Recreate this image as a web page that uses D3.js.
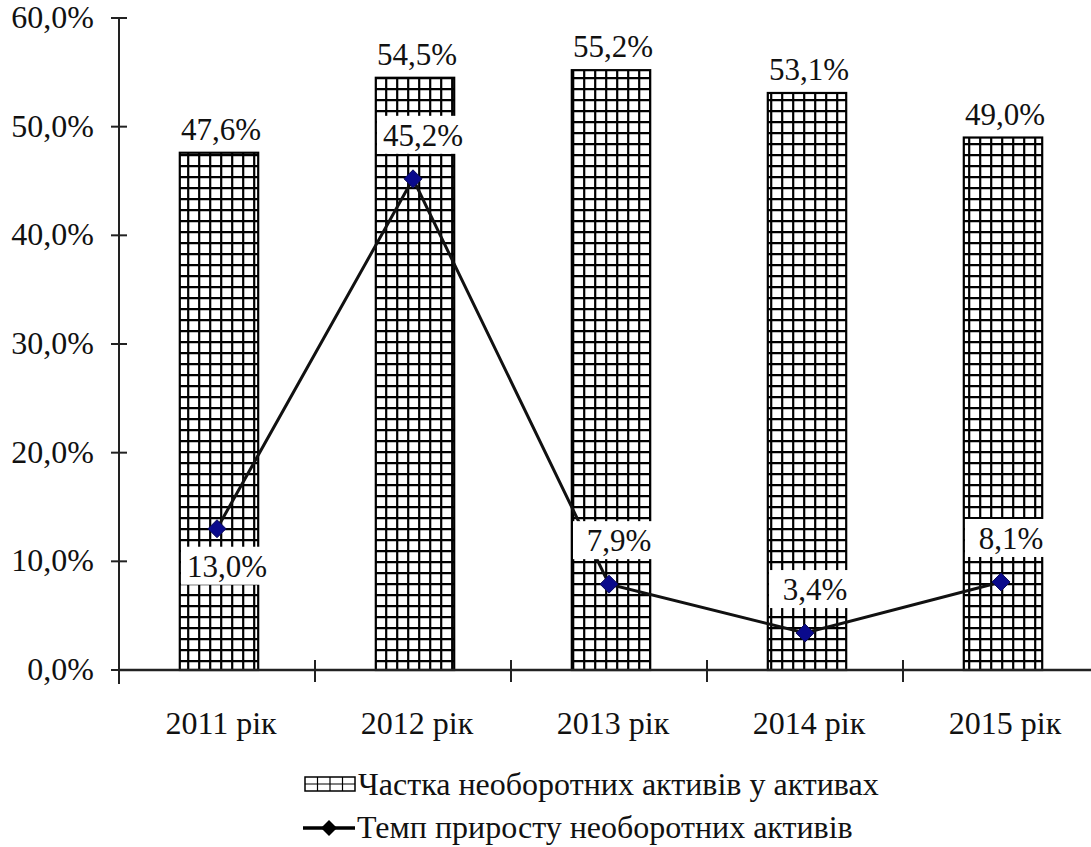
<!DOCTYPE html>
<html>
<head>
<meta charset="utf-8">
<script src="https://cdn.jsdelivr.net/npm/d3@7"></script>
<style>
  body { margin: 0; background: #fff; }
</style>
</head>
<body>
<div id="chart"></div>
<script>
const WIDTH = 1091;
const HEIGHT = 847;
const FONT = "Liberation Serif";

// дані
const years = ["2011 рік", "2012 рік", "2013 рік", "2014 рік", "2015 рік"];
const shareValues = [47.6, 54.5, 55.2, 53.1, 49.0];   // частка необоротних активів
const growthValues = [13.0, 45.2, 7.9, 3.4, 8.1];     // темп приросту
const growthLabelSide = ["below", "above", "above", "above", "above"];
const yTicks = [0, 10, 20, 30, 40, 50, 60];
const legendLabels = ["Частка необоротних активів у активах", "Темп приросту необоротних активів"];

const MARGIN = { top: 18, left: 119, bottom: 177 };

const fmt = v => d3.format(".1f")(v).replace(".", ",") + "%";

const svg = d3.select("#chart").append("svg")
  .attr("width", WIDTH)
  .attr("height", HEIGHT);

// візерунок сітки для стовпців
const defs = svg.append("defs");
const pat = defs.append("pattern")
  .attr("id", "grid")
  .attr("patternUnits", "userSpaceOnUse")
  .attr("width", 11)
  .attr("height", 11);
pat.append("rect").attr("width", 11).attr("height", 11).attr("fill", "#fff");
pat.append("path")
  .attr("d", "M0,1.2H11M1.2,0V11")
  .attr("stroke", "#000")
  .attr("stroke-width", 2.2);

const x = d3.scaleBand()
  .domain(years)
  .range([MARGIN.left, MARGIN.left + 196 * years.length]);

const y = d3.scaleLinear()
  .domain([0, 60])
  .range([HEIGHT - MARGIN.bottom, MARGIN.top]);

const barW = x.bandwidth() * 0.4;

// стовпці
svg.selectAll("rect.bar")
  .data(shareValues)
  .join("rect")
  .attr("class", "bar")
  .attr("x", (d, i) => x(years[i]) + x.bandwidth() / 2 - barW / 2 + 2)
  .attr("y", d => y(d))
  .attr("width", barW)
  .attr("height", d => y(0) - y(d))
  .attr("fill", "url(#grid)")
  .attr("stroke", "#000")
  .attr("stroke-width", 2.2);

// підписи стовпців
svg.selectAll("text.barlab")
  .data(shareValues)
  .join("text")
  .attr("class", "barlab")
  .attr("x", (d, i) => x(years[i]) + x.bandwidth() / 2 + 4)
  .attr("y", d => y(d) - 13)
  .attr("text-anchor", "middle")
  .attr("font-family", FONT)
  .attr("font-size", 31)
  .attr("fill", "#111")
  .text(d => fmt(d));

// вісь Y
svg.append("line")
  .attr("x1", MARGIN.left).attr("x2", MARGIN.left)
  .attr("y1", y(60)).attr("y2", y(0) + 14)
  .attr("stroke", "#222").attr("stroke-width", 2);

svg.selectAll("line.ytick")
  .data(yTicks)
  .join("line")
  .attr("class", "ytick")
  .attr("x1", MARGIN.left - 8).attr("x2", MARGIN.left + 8)
  .attr("y1", d => y(d)).attr("y2", d => y(d))
  .attr("stroke", "#222").attr("stroke-width", 2);

svg.selectAll("text.ylab")
  .data(yTicks)
  .join("text")
  .attr("class", "ylab")
  .attr("x", MARGIN.left - 25)
  .attr("y", d => y(d) + 10)
  .attr("text-anchor", "end")
  .attr("font-family", FONT)
  .attr("font-size", 32)
  .attr("fill", "#111")
  .text(d => fmt(d));

// вісь X
svg.append("line")
  .attr("x1", MARGIN.left).attr("x2", WIDTH)
  .attr("y1", y(0)).attr("y2", y(0))
  .attr("stroke", "#222").attr("stroke-width", 2.5);

svg.selectAll("line.xtick")
  .data(years.slice(1))
  .join("line")
  .attr("class", "xtick")
  .attr("x1", d => x(d)).attr("x2", d => x(d))
  .attr("y1", y(0) - 10).attr("y2", y(0) + 12)
  .attr("stroke", "#222").attr("stroke-width", 2);

svg.selectAll("text.xlab")
  .data(years)
  .join("text")
  .attr("class", "xlab")
  .attr("x", d => x(d) + x.bandwidth() / 2 + 4)
  .attr("y", y(0) + 64)
  .attr("text-anchor", "middle")
  .attr("font-family", FONT)
  .attr("font-size", 32)
  .attr("fill", "#111")
  .text(d => d);

// лінія темпу приросту
const cx = i => x(years[i]) + x.bandwidth() / 2;
const line = d3.line()
  .x((d, i) => cx(i))
  .y(d => y(d));

svg.append("path")
  .datum(growthValues)
  .attr("d", line)
  .attr("fill", "none")
  .attr("stroke", "#111")
  .attr("stroke-width", 3);

const diamondPath = "M0,-9L9,0L0,9L-9,0Z";
svg.selectAll("path.pt")
  .data(growthValues)
  .join("path")
  .attr("class", "pt")
  .attr("transform", (d, i) => `translate(${cx(i)},${y(d)})`)
  .attr("d", diamondPath)
  .attr("fill", "#0a0a8c")
  .attr("stroke", "#0a0a5a")
  .attr("stroke-width", 1);

// підписи лінії з білим фоном
const glab = svg.selectAll("g.glab")
  .data(growthValues)
  .join("g")
  .attr("class", "glab")
  .attr("transform", (d, i) => {
    const dy = growthLabelSide[i] === "below" ? 37 : -44;
    return `translate(${cx(i) + 10},${y(d) + dy})`;
  });
glab.append("rect")
  .attr("x", -46).attr("y", -19)
  .attr("width", 92).attr("height", 38)
  .attr("fill", "#fff");
glab.append("text")
  .attr("y", 11)
  .attr("text-anchor", "middle")
  .attr("font-family", FONT)
  .attr("font-size", 31)
  .attr("fill", "#111")
  .text(d => fmt(d));

// легенда
const leg = svg.append("g").attr("transform", "translate(305, 784)");
leg.append("rect")
  .attr("x", 0).attr("y", -7).attr("width", 50).attr("height", 14)
  .attr("fill", "#fff").attr("stroke", "#000").attr("stroke-width", 1.5);
[12.5, 25, 37.5].forEach(v => {
  leg.append("line").attr("x1", v).attr("x2", v).attr("y1", -7).attr("y2", 7)
    .attr("stroke", "#000").attr("stroke-width", 1.2);
});
leg.append("line").attr("x1", 0).attr("x2", 50).attr("y1", 0).attr("y2", 0)
  .attr("stroke", "#000").attr("stroke-width", 1.2);
leg.append("text")
  .attr("x", 53).attr("y", 11)
  .attr("font-family", FONT)
  .attr("font-size", 32)
  .attr("fill", "#111")
  .text(legendLabels[0]);

const leg2 = svg.append("g").attr("transform", "translate(303, 828)");
leg2.append("line").attr("x1", 0).attr("x2", 52).attr("y1", 0).attr("y2", 0)
  .attr("stroke", "#000").attr("stroke-width", 3.5);
leg2.append("path")
  .attr("transform", "translate(26,0)")
  .attr("d", "M0,-8L8,0L0,8L-8,0Z")
  .attr("fill", "#000");
leg2.append("text")
  .attr("x", 54).attr("y", 10)
  .attr("font-family", FONT)
  .attr("font-size", 32)
  .attr("fill", "#111")
  .text(legendLabels[1]);
</script>
</body>
</html>
